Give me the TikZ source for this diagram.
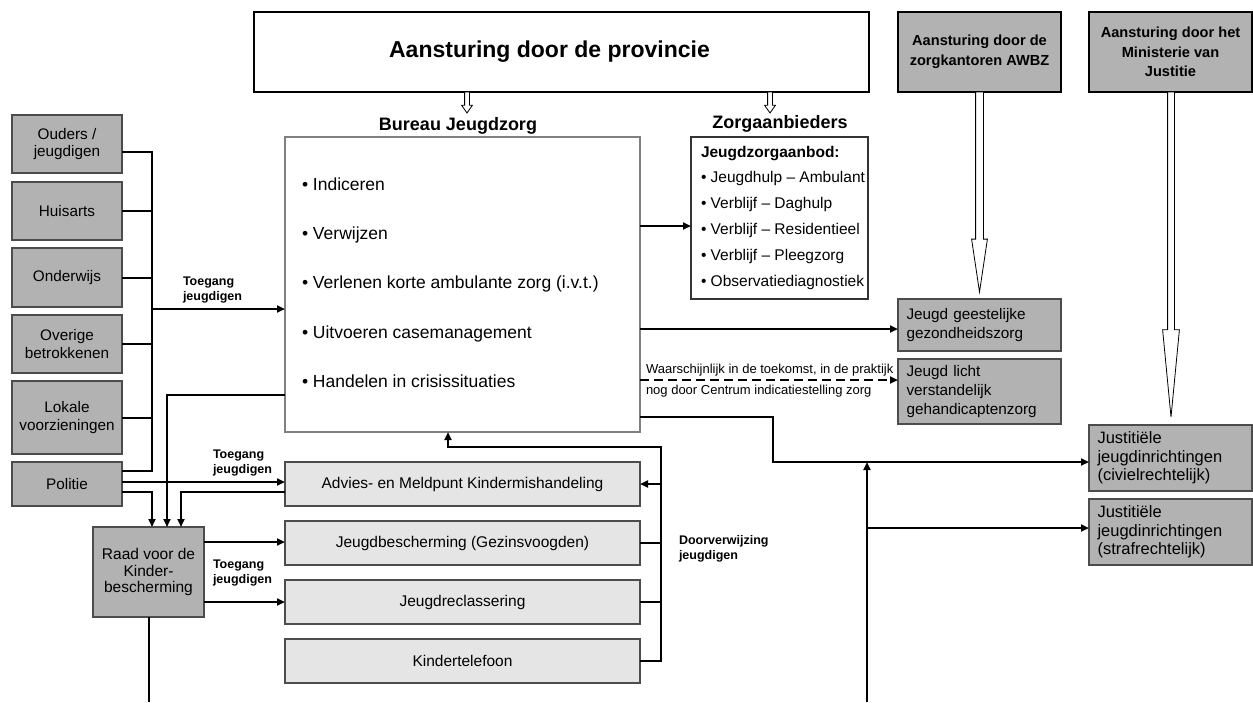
\documentclass[tikz,border=0pt]{standalone}
\usepackage{fontspec}
\setmainfont{Liberation Sans}
\usetikzlibrary{arrows.meta,shapes.arrows}

\begin{document}
\begin{tikzpicture}[x=1pt,y=-1pt,inner sep=0pt,outer sep=0pt,
darkbox/.style={draw=black!70,fill=black!30,line width=1.5pt,minimum width=110pt,align=center,font=\fontsize{15.3}{17.5}\selectfont},
lightbox/.style={draw=black!70,fill=black!10,line width=1.5pt,minimum width=355pt,minimum height=44pt,font=\fontsize{15.5}{18}\selectfont},
sidebox/.style={draw=black!70,fill=black!30,line width=1.5pt,minimum width=163pt,text width=146pt,align=left,font=\fontsize{15.3}{19}\selectfont},
headbox/.style={draw=black,fill=black!30,line width=2pt,minimum width=163pt,minimum height=80pt,align=center,font=\fontsize{14.6}{19.5}\selectfont\bfseries},
hollow/.style={draw,fill=white,single arrow,shape border rotate=270,anchor=tail,line width=0.8pt},
smalllabel/.style={anchor=west,align=left,font=\fontsize{12.5}{15}\selectfont\bfseries},
conn/.style={line width=2pt},
arr/.style={line width=2pt,-{Triangle[length=8pt,width=7pt]}}]
\useasboundingbox (0,0) rectangle (1253,702);
% aansturing
\node[draw=black,line width=2.5pt,minimum width=615pt,minimum height=80pt,font=\fontsize{23}{27}\selectfont\bfseries] (prov) at (561.5,52) {Aansturing door de provincie\hspace*{24pt}};
\node[headbox] (awbz) at (979.5,52) {Aansturing door de\\zorgkantoren AWBZ};
\node[headbox] (minjus) at (1170.5,52) {Aansturing door het\\Ministerie van\\Justitie};
% bureau jeugdzorg en zorgaanbieders
\node[font=\fontsize{18}{22}\selectfont\bfseries] (bjztitel) at (458,126) {Bureau Jeugdzorg};
\node[draw=black!50,line width=1.2pt,minimum width=355pt,minimum height=295pt] (bjz) at (462.5,284.5) {};
\node[anchor=west,align=left,font=\fontsize{17.5}{49.25}\selectfont] (taken) at (302,282.5) {\textbullet{} Indiceren\\\textbullet{} Verwijzen\\\textbullet{} Verlenen korte ambulante zorg (i.v.t.)\\\textbullet{} Uitvoeren casemanagement\\\textbullet{} Handelen in crisissituaties};
\node[font=\fontsize{18}{22}\selectfont\bfseries] (zatitel) at (780,124) {Zorgaanbieders};
\node[draw=black!80,line width=1.2pt,minimum width=177pt,minimum height=162pt] (zab) at (779.5,218) {};
\node[anchor=west,align=left,font=\fontsize{15.5}{25.8}\selectfont] (aanbod) at (701,217.5) {\textbf{Jeugdzorgaanbod:}\\\textbullet{} Jeugdhulp – Ambulant\\\textbullet{} Verblijf – Daghulp\\\textbullet{} Verblijf – Residentieel\\\textbullet{} Verblijf – Pleegzorg\\\textbullet{} Observatiediagnostiek};
\node[hollow,inner sep=2pt,minimum height=21pt,minimum width=10pt,single arrow head extend=3pt,single arrow tip angle=70] (pijl1) at (467,92) {};
\node[hollow,inner sep=2pt,minimum height=21pt,minimum width=10pt,single arrow head extend=3pt,single arrow tip angle=70] (pijl2) at (770,92) {};
\node[hollow,inner sep=3.5pt,minimum height=200pt,minimum width=15pt,single arrow head extend=4pt,single arrow tip angle=17] (pijl3) at (979.5,92) {};
\node[hollow,inner sep=3pt,minimum height=325pt,minimum width=16pt,single arrow head extend=5pt,single arrow tip angle=11] (pijl4) at (1171,92) {};
% verwijzers
\node[darkbox,minimum height=58pt] (ouders) at (67,144) {Ouders /\\jeugdigen};
\node[darkbox,minimum height=58pt] (huisarts) at (67,211) {Huisarts};
\node[darkbox,minimum height=59pt] (onderwijs) at (67,277.5) {Onderwijs};
\node[darkbox,minimum height=58pt] (overige) at (67,344) {Overige\\betrokkenen};
\node[darkbox,minimum height=73pt] (lokale) at (67,417.5) {Lokale\\voorzieningen};
\node[darkbox,minimum height=44pt] (politie) at (67,484) {Politie};
\node[darkbox,minimum width=111pt,minimum height=90pt,font=\fontsize{15.5}{16.5}\selectfont] (raad) at (148.5,572) {Raad voor de\\Kinder-\\bescherming};
% jeugdbescherming
\node[lightbox] (amk) at (462.5,484) {Advies- en Meldpunt Kindermishandeling};
\node[lightbox] (jb) at (462.5,543) {Jeugdbescherming (Gezinsvoogden)};
\node[lightbox] (jr) at (462.5,602) {Jeugdreclassering};
\node[lightbox] (kt) at (462.5,661) {Kindertelefoon};
% zorg en justitie
\node[sidebox,minimum height=52pt] (jggz) at (979.5,325) {Jeugd geestelijke\\gezondheidszorg};
\node[sidebox,minimum height=65pt] (jlvg) at (979.5,391.5) {Jeugd licht\\verstandelijk\\gehandicaptenzorg};
\node[sidebox,minimum height=66pt,font=\fontsize{16.5}{18.5}\selectfont] (jjic) at (1170.5,458) {Justitiële\\jeugdinrichtingen\\(civielrechtelijk)};
\node[sidebox,minimum height=66pt,font=\fontsize{16.5}{18.5}\selectfont] (jjis) at (1170.5,532) {Justitiële\\jeugdinrichtingen\\(strafrechtelijk)};
% labels
\node[smalllabel] (toeg1) at (183,290) {Toegang\\jeugdigen};
\node[smalllabel] (toeg2) at (213,463.5) {Toegang\\jeugdigen};
\node[smalllabel] (toeg3) at (213,573) {Toegang\\jeugdigen};
\node[smalllabel] (doorv) at (679,549) {Doorverwijzing\\jeugdigen};
\node[anchor=west,font=\fontsize{13}{15}\selectfont] (wrsch1) at (646,370) {Waarschijnlijk in de toekomst, in de praktijk};
\node[anchor=west,font=\fontsize{13}{15}\selectfont] (wrsch2) at (646,391) {nog door Centrum indicatiestelling zorg};
\coordinate (bus) at (152,309);
\coordinate (rbus) at (661,447);
\coordinate (knik) at (773,462);
\coordinate (raadeind) at (148.5,702);
\coordinate (jbot) at (867,702);
% verbindingen links
\draw[conn] ([yshift=-8pt]ouders.east) -| ([yshift=13pt]politie.east -| bus) -- ([yshift=13pt]politie.east);
\draw[conn] (huisarts.east) -- (huisarts.east -| bus);
\draw[conn] (onderwijs.east) -- (onderwijs.east -| bus);
\draw[conn] (overige.east) -- (overige.east -| bus);
\draw[conn] (lokale.east) -- (lokale.east -| bus);
\draw[arr] (bus) -- (bus -| bjz.west);
\draw[arr] ([yshift=2pt]politie.east) -- ([yshift=2pt]politie.east -| amk.west);
\draw[arr] ([yshift=-8pt]politie.east) -| ([xshift=3.5pt]raad.north);
\draw[arr] ([yshift=-110.5pt]bjz.west) -| ([xshift=18.5pt]raad.north);
\draw[arr] ([yshift=-8pt]amk.west) -| ([xshift=32.5pt]raad.north);
\draw[arr] ([yshift=30pt]raad.east) -- ([yshift=30pt]raad.east -| jb.west);
\draw[arr] ([yshift=-30pt]raad.east) -- ([yshift=-30pt]raad.east -| jr.west);
\draw[conn] (raad.south) -- (raadeind);
% doorverwijzing
\draw[arr] (kt.east) -| (rbus) -| ([xshift=-14.5pt]bjz.south);
\draw[arr] (amk.east -| rbus) -- (amk.east);
\draw[conn] (jb.east) -- (jb.east -| rbus);
\draw[conn] (jr.east) -- (jr.east -| rbus);
% verbindingen rechts
\draw[arr] ([yshift=58.5pt]bjz.east) -- ([yshift=58.5pt]bjz.east -| zab.west);
\draw[arr] ([yshift=-44.5pt]bjz.east) -- ([yshift=-44.5pt]bjz.east -| jggz.west);
\draw[arr,dash pattern=on 9pt off 5pt] ([yshift=-95.5pt]bjz.east) -- ([yshift=-95.5pt]bjz.east -| jlvg.west);
\draw[arr] ([yshift=-132.5pt]bjz.east) -| (knik) -- (knik -| jjic.west);
\draw[arr] (jbot) -- (jbot |- knik);
\draw[arr] ([yshift=4pt]jjis.west -| jbot) -- ([yshift=4pt]jjis.west);
\end{tikzpicture}
\end{document}
